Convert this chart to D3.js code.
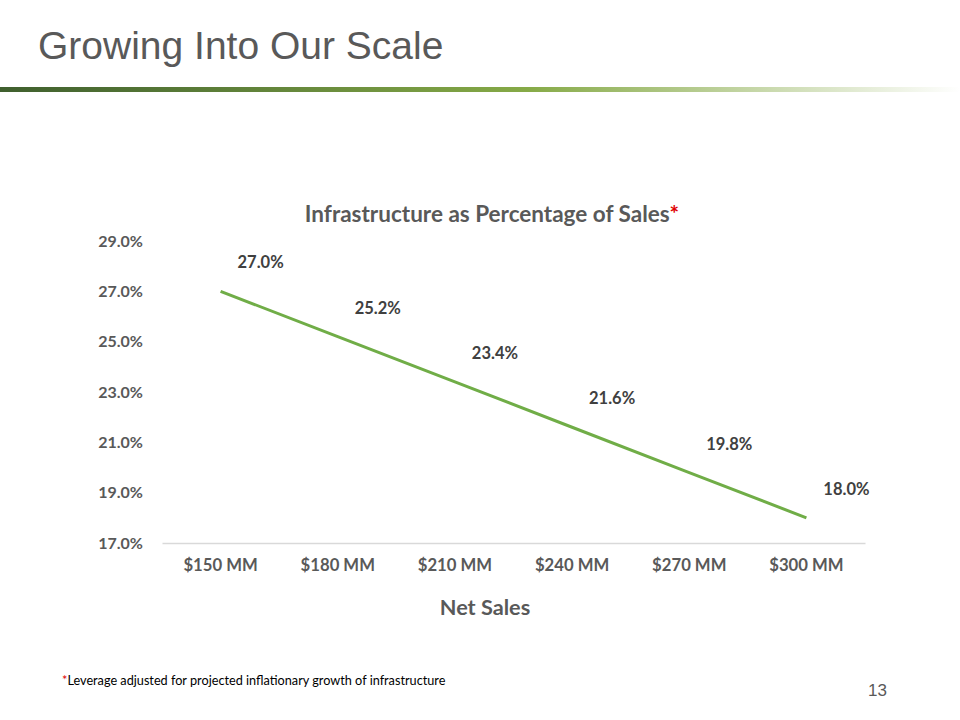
<!DOCTYPE html>
<html><head><meta charset="utf-8">
<script src="https://cdn.jsdelivr.net/npm/d3@7"></script>
<style>body{margin:0;background:#fff}svg{display:block}</style>
</head><body>
<script>
const categories = ["$150 MM","$180 MM","$210 MM","$240 MM","$270 MM","$300 MM"];
const values = [27.0, 25.2, 23.4, 21.6, 19.8, 18.0];
const yTicks = [17, 19, 21, 23, 25, 27, 29];

const W = 960, H = 720;
const svg = d3.select("body").append("svg").attr("width", W).attr("height", H);

// header gradient bar
const defs = svg.append("defs");
const g = defs.append("linearGradient").attr("id","hdr").attr("x1","0").attr("x2","1");
g.append("stop").attr("offset","0%").attr("stop-color","#3f5f2e");
g.append("stop").attr("offset","55%").attr("stop-color","#86aa47");
g.append("stop").attr("offset","100%").attr("stop-color","#ffffff");
svg.append("rect").attr("x",0).attr("y",87).attr("width",W).attr("height",5).attr("fill","url(#hdr)");

svg.append("text").attr("x",38).attr("y",59).attr("font-family","Liberation Sans, Arial").attr("font-size",39)
  .attr("fill","#595959").text("Growing Into Our Scale");

const x = d3.scaleBand().domain(categories).range([162, 865]);
const y = d3.scaleLinear().domain([17, 29]).range([543, 241]);

const font = "Lato, Carlito, Calibri, sans-serif";
// chart title
const t = svg.append("text").attr("x",492).attr("y",222).attr("text-anchor","middle")
  .attr("font-family",font).attr("font-weight","bold").attr("font-size",22.5).attr("fill","#595959");
t.append("tspan").text("Infrastructure as Percentage of Sales");
t.append("tspan").attr("fill","#e00000").text("*");

// y axis
const yAxis = svg.append("g").attr("transform","translate(162,0)")
  .call(d3.axisLeft(y).tickValues(yTicks).tickSize(0).tickPadding(19).tickFormat(d => d.toFixed(1) + "%"));
yAxis.select(".domain").remove();
yAxis.selectAll("text").attr("font-family",font).attr("font-weight","bold").attr("font-size",16).attr("fill","#595959");

// x axis
const xAxis = svg.append("g").attr("transform","translate(0,543)")
  .call(d3.axisBottom(x).tickSize(0).tickPadding(16));
xAxis.select(".domain").attr("stroke","#d9d9d9").attr("stroke-width",1.5);
xAxis.selectAll("text").attr("font-family",font).attr("font-weight","bold").attr("font-size",16.7).attr("fill","#595959");

svg.append("text").attr("x",485).attr("y",615).attr("text-anchor","middle")
  .attr("font-family",font).attr("font-weight","bold").attr("font-size",21.7).attr("fill","#595959").text("Net Sales");

const pts = categories.map((c,i) => ({c, v: values[i]}));
const line = d3.line().x(d => x(d.c) + x.bandwidth()/2).y(d => y(d.v));
svg.append("path").datum(pts).attr("d", line).attr("fill","none").attr("stroke","#70ad47").attr("stroke-width",3);

svg.selectAll(".lbl").data(pts).join("text").attr("class","lbl")
  .attr("x", d => x(d.c) + x.bandwidth()/2 + 40)
  .attr("y", d => y(d.v) - 23)
  .attr("text-anchor","middle").attr("font-family",font).attr("font-weight","bold").attr("font-size",16.5)
  .attr("fill","#404040").text(d => d.v.toFixed(1) + "%");

// footnote
const fn = svg.append("text").attr("x",62).attr("y",685).attr("font-family",font).attr("font-size",12.7).attr("fill","#000");
fn.append("tspan").attr("fill","#e00000").text("*");
fn.append("tspan").text("Leverage adjusted for projected inflationary growth of infrastructure");

svg.append("text").attr("x",887).attr("y",696).attr("text-anchor","end").attr("font-family","Liberation Sans, Arial")
  .attr("font-size",17).attr("fill","#595959").text("13");
</script>
</body></html>
